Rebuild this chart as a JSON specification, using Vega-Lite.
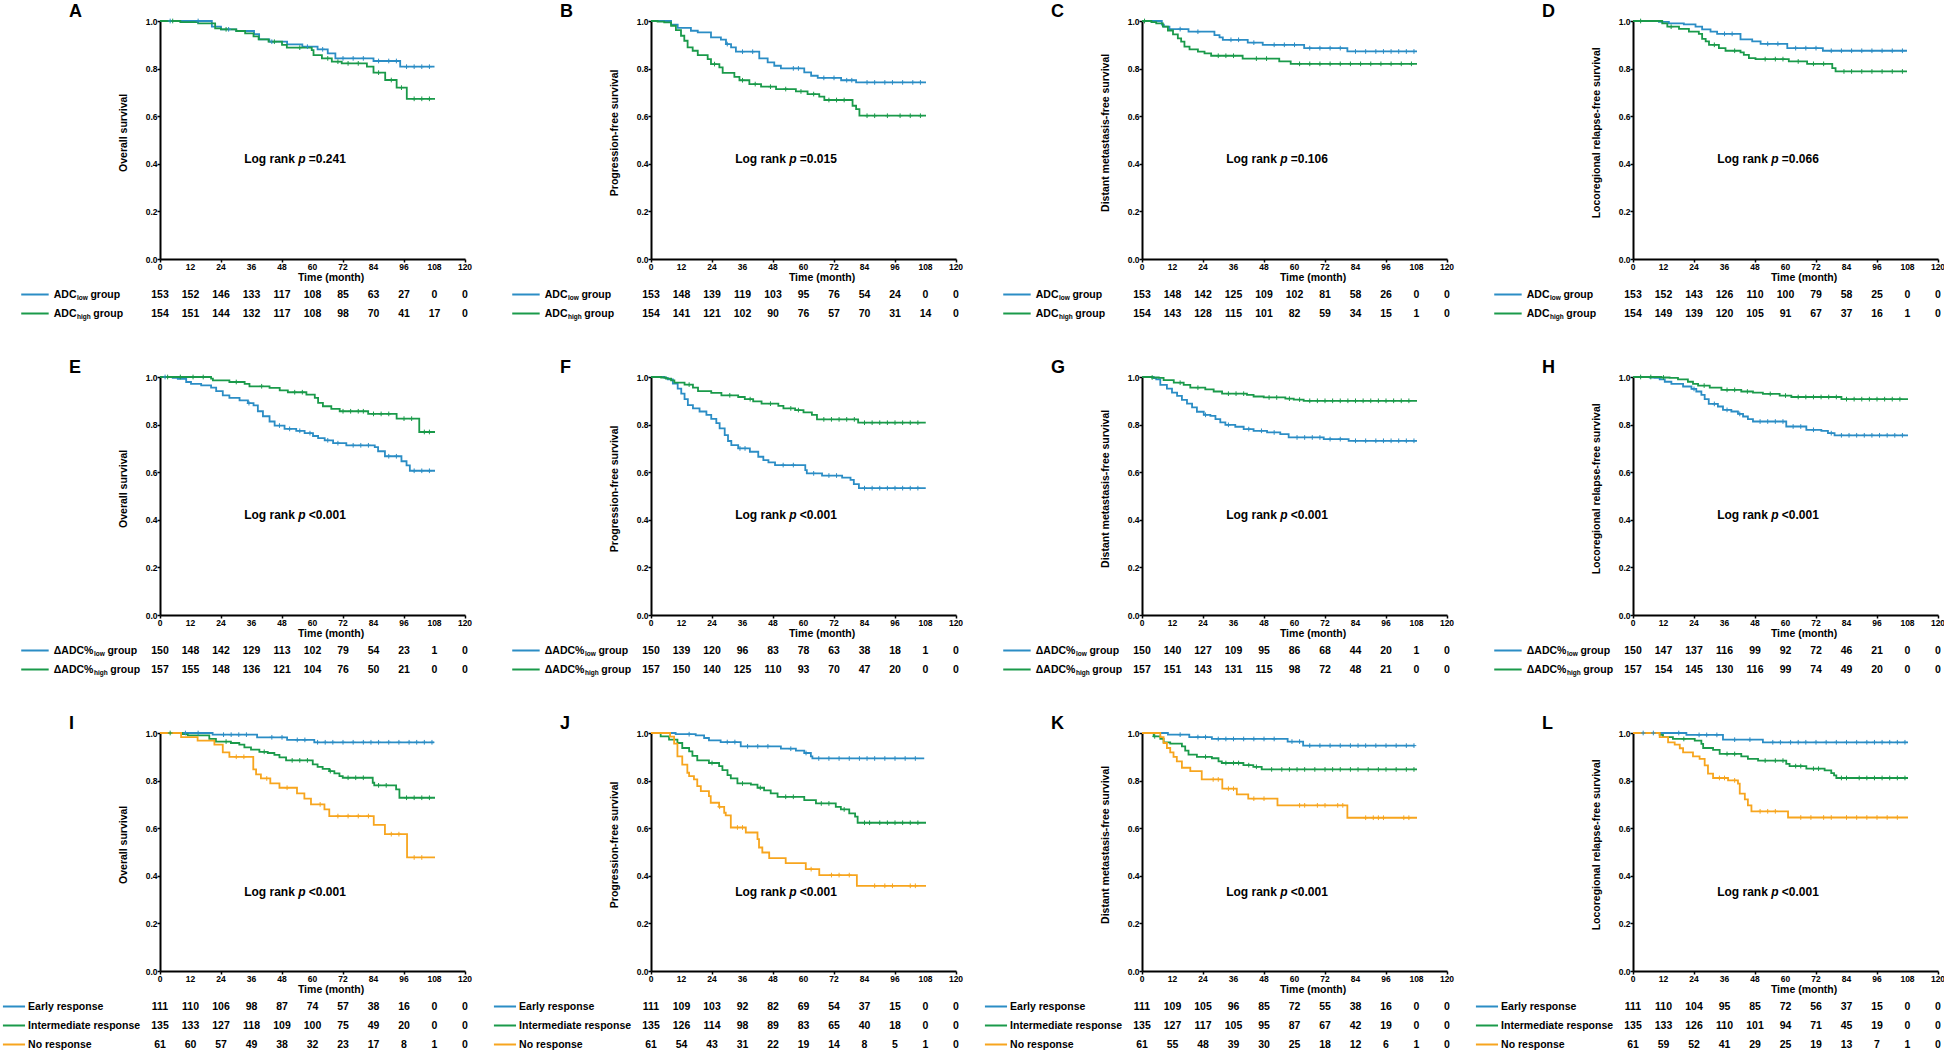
{
"$schema":"https://vega.github.io/schema/vega-lite/v6.json",
"padding":{"left":1,"top":3,"right":0,"bottom":0},
"background":"white",
"config":{"font":"Liberation Sans","view":{"stroke":null},
"text":{"font":"Liberation Sans","fontWeight":"bold","fontSize":10.5,"color":"black"},
"axis":{"domainColor":"black","domainWidth":2,"tickColor":"black","tickWidth":1.5,"tickSize":3,"labelFont":"Liberation Sans","labelFontWeight":"bold","labelFontSize":8.5,"labelColor":"black","grid":false,"labelPadding":0,"labelFlush":false,"labelOverlap":false}},
"data":{"values":[
{"k":"i","r":1,"c":1,"L":"A","yt":"Overall survival","pv":"=0.241","xt":"Time (month)"},
{"k":"i","r":1,"c":2,"L":"B","yt":"Progression-free survival","pv":"=0.015","xt":"Time (month)"},
{"k":"i","r":1,"c":3,"L":"C","yt":"Distant metastasis-free survival","pv":"=0.106","xt":"Time (month)"},
{"k":"i","r":1,"c":4,"L":"D","yt":"Locoregional relapse-free survival","pv":"=0.066","xt":"Time (month)"},
{"k":"i","r":2,"c":1,"L":"E","yt":"Overall survival","pv":"<0.001","xt":"Time (month)"},
{"k":"i","r":2,"c":2,"L":"F","yt":"Progression-free survival","pv":"<0.001","xt":"Time (month)"},
{"k":"i","r":2,"c":3,"L":"G","yt":"Distant metastasis-free survival","pv":"<0.001","xt":"Time (month)"},
{"k":"i","r":2,"c":4,"L":"H","yt":"Locoregional relapse-free survival","pv":"<0.001","xt":"Time (month)"},
{"k":"i","r":3,"c":1,"L":"I","yt":"Overall survival","pv":"<0.001","xt":"Time (month)"},
{"k":"i","r":3,"c":2,"L":"J","yt":"Progression-free survival","pv":"<0.001","xt":""},
{"k":"i","r":3,"c":3,"L":"K","yt":"Distant metastasis-free survival","pv":"<0.001","xt":"Time (month)"},
{"k":"i","r":3,"c":4,"L":"L","yt":"Locoregional relapse-free survival","pv":"<0.001","xt":"Time (month)"},

{"k":"l","r":1,"c":1,"g":"low","gi":1,"lab":"ADC","sub":"low","t":[0,12,24,36,48,60,72,84,96,108,120],"n":[153,152,146,133,117,108,85,63,27,0,0]},
{"k":"l","r":1,"c":1,"g":"high","gi":2,"lab":"ADC","sub":"high","t":[0,12,24,36,48,60,72,84,96,108,120],"n":[154,151,144,132,117,108,98,70,41,17,0]},
{"k":"l","r":1,"c":2,"g":"low","gi":1,"lab":"ADC","sub":"low","t":[0,12,24,36,48,60,72,84,96,108,120],"n":[153,148,139,119,103,95,76,54,24,0,0]},
{"k":"l","r":1,"c":2,"g":"high","gi":2,"lab":"ADC","sub":"high","t":[0,12,24,36,48,60,72,84,96,108,120],"n":[154,141,121,102,90,76,57,70,31,14,0]},
{"k":"l","r":1,"c":3,"g":"low","gi":1,"lab":"ADC","sub":"low","t":[0,12,24,36,48,60,72,84,96,108,120],"n":[153,148,142,125,109,102,81,58,26,0,0]},
{"k":"l","r":1,"c":3,"g":"high","gi":2,"lab":"ADC","sub":"high","t":[0,12,24,36,48,60,72,84,96,108,120],"n":[154,143,128,115,101,82,59,34,15,1,0]},
{"k":"l","r":1,"c":4,"g":"low","gi":1,"lab":"ADC","sub":"low","t":[0,12,24,36,48,60,72,84,96,108,120],"n":[153,152,143,126,110,100,79,58,25,0,0]},
{"k":"l","r":1,"c":4,"g":"high","gi":2,"lab":"ADC","sub":"high","t":[0,12,24,36,48,60,72,84,96,108,120],"n":[154,149,139,120,105,91,67,37,16,1,0]},
{"k":"l","r":2,"c":1,"g":"low","gi":1,"lab":"ΔADC%","sub":"low","t":[0,12,24,36,48,60,72,84,96,108,120],"n":[150,148,142,129,113,102,79,54,23,1,0]},
{"k":"l","r":2,"c":1,"g":"high","gi":2,"lab":"ΔADC%","sub":"high","t":[0,12,24,36,48,60,72,84,96,108,120],"n":[157,155,148,136,121,104,76,50,21,0,0]},
{"k":"l","r":2,"c":2,"g":"low","gi":1,"lab":"ΔADC%","sub":"low","t":[0,12,24,36,48,60,72,84,96,108,120],"n":[150,139,120,96,83,78,63,38,18,1,0]},
{"k":"l","r":2,"c":2,"g":"high","gi":2,"lab":"ΔADC%","sub":"high","t":[0,12,24,36,48,60,72,84,96,108,120],"n":[157,150,140,125,110,93,70,47,20,0,0]},
{"k":"l","r":2,"c":3,"g":"low","gi":1,"lab":"ΔADC%","sub":"low","t":[0,12,24,36,48,60,72,84,96,108,120],"n":[150,140,127,109,95,86,68,44,20,1,0]},
{"k":"l","r":2,"c":3,"g":"high","gi":2,"lab":"ΔADC%","sub":"high","t":[0,12,24,36,48,60,72,84,96,108,120],"n":[157,151,143,131,115,98,72,48,21,0,0]},
{"k":"l","r":2,"c":4,"g":"low","gi":1,"lab":"ΔADC%","sub":"low","t":[0,12,24,36,48,60,72,84,96,108,120],"n":[150,147,137,116,99,92,72,46,21,0,0]},
{"k":"l","r":2,"c":4,"g":"high","gi":2,"lab":"ΔADC%","sub":"high","t":[0,12,24,36,48,60,72,84,96,108,120],"n":[157,154,145,130,116,99,74,49,20,0,0]},
{"k":"l","r":3,"c":1,"g":"early","gi":1,"lab":"Early response","t":[0,12,24,36,48,60,72,84,96,108,120],"n":[111,110,106,98,87,74,57,38,16,0,0]},
{"k":"l","r":3,"c":1,"g":"inter","gi":2,"lab":"Intermediate response","t":[0,12,24,36,48,60,72,84,96,108,120],"n":[135,133,127,118,109,100,75,49,20,0,0]},
{"k":"l","r":3,"c":1,"g":"no","gi":3,"lab":"No response","t":[0,12,24,36,48,60,72,84,96,108,120],"n":[61,60,57,49,38,32,23,17,8,1,0]},
{"k":"l","r":3,"c":2,"g":"early","gi":1,"lab":"Early response","t":[0,12,24,36,48,60,72,84,96,108,120],"n":[111,109,103,92,82,69,54,37,15,0,0]},
{"k":"l","r":3,"c":2,"g":"inter","gi":2,"lab":"Intermediate response","t":[0,12,24,36,48,60,72,84,96,108,120],"n":[135,126,114,98,89,83,65,40,18,0,0]},
{"k":"l","r":3,"c":2,"g":"no","gi":3,"lab":"No response","t":[0,12,24,36,48,60,72,84,96,108,120],"n":[61,54,43,31,22,19,14,8,5,1,0]},
{"k":"l","r":3,"c":3,"g":"early","gi":1,"lab":"Early response","t":[0,12,24,36,48,60,72,84,96,108,120],"n":[111,109,105,96,85,72,55,38,16,0,0]},
{"k":"l","r":3,"c":3,"g":"inter","gi":2,"lab":"Intermediate response","t":[0,12,24,36,48,60,72,84,96,108,120],"n":[135,127,117,105,95,87,67,42,19,0,0]},
{"k":"l","r":3,"c":3,"g":"no","gi":3,"lab":"No response","t":[0,12,24,36,48,60,72,84,96,108,120],"n":[61,55,48,39,30,25,18,12,6,1,0]},
{"k":"l","r":3,"c":4,"g":"early","gi":1,"lab":"Early response","t":[0,12,24,36,48,60,72,84,96,108,120],"n":[111,110,104,95,85,72,56,37,15,0,0]},
{"k":"l","r":3,"c":4,"g":"inter","gi":2,"lab":"Intermediate response","t":[0,12,24,36,48,60,72,84,96,108,120],"n":[135,133,126,110,101,94,71,45,19,0,0]},
{"k":"l","r":3,"c":4,"g":"no","gi":3,"lab":"No response","t":[0,12,24,36,48,60,72,84,96,108,120],"n":[61,59,52,41,29,25,19,13,7,1,0]},

{"k":"s","r":1,"c":1,"g":"low","t":[0,20.4,24,30,37,39,43,50,56,62,66,69,84,94.5,108],"s":[1,0.976,0.965,0.958,0.945,0.923,0.913,0.902,0.892,0.881,0.864,0.843,0.832,0.808,0.808]},
{"k":"s","r":1,"c":1,"g":"high","t":[0,8,15,21.7,24,30,33.5,36.8,38.8,42.7,48,49.9,59.7,60.4,63.7,67.6,71.5,81.4,84,88.6,93.1,97.1,108.2],"s":[1,0.995,0.99,0.969,0.965,0.958,0.948,0.935,0.923,0.913,0.9,0.888,0.878,0.857,0.843,0.829,0.822,0.808,0.783,0.752,0.72,0.673,0.673]},
{"k":"s","r":1,"c":2,"g":"low","t":[0,7.9,10.5,15.7,18.4,23.6,27.5,29.5,31.5,33.4,42.6,45.9,48.5,51.1,60.3,63,65.6,74.8,80.7,108.2],"s":[1,0.985,0.971,0.959,0.952,0.931,0.922,0.903,0.889,0.871,0.843,0.826,0.812,0.801,0.784,0.77,0.761,0.751,0.742,0.742]},
{"k":"s","r":1,"c":2,"g":"high","t":[0,2.6,5.2,7.9,9.8,11.8,13.1,14.4,16.4,18.4,22.3,23.6,26.9,28.2,32.8,34.8,38.7,43.3,49.2,57,61.6,66.2,68.2,79.3,80.7,82,108.2],"s":[1,0.997,0.994,0.98,0.962,0.938,0.917,0.889,0.875,0.857,0.84,0.819,0.805,0.782,0.765,0.751,0.735,0.724,0.714,0.704,0.693,0.682,0.668,0.644,0.63,0.602,0.602]},
{"k":"s","r":1,"c":3,"g":"low","t":[0,7.8,8.6,10.8,18.3,28.5,30.5,31.8,41.6,47.5,63.8,80.8,108.2],"s":[1,0.985,0.976,0.966,0.955,0.941,0.931,0.921,0.909,0.9,0.886,0.872,0.872]},
{"k":"s","r":1,"c":3,"g":"high","t":[0,3.7,5.6,8.2,10.2,12.2,14.1,15.4,16.7,18.7,22,24.6,27.2,39.6,54,58.5,108.2],"s":[1,0.995,0.99,0.976,0.96,0.944,0.927,0.913,0.892,0.881,0.871,0.864,0.854,0.842,0.83,0.82,0.82]},
{"k":"s","r":1,"c":4,"g":"low","t":[0,10.2,14.1,20,24.6,27.2,30.5,33.1,42.3,46.9,50.2,60.7,74.7,107.8],"s":[1,0.996,0.99,0.986,0.976,0.965,0.955,0.946,0.923,0.914,0.904,0.886,0.875,0.875]},
{"k":"s","r":1,"c":4,"g":"high","t":[0,11.5,13.5,18.1,22,25.9,27.2,28.6,29.9,33.8,36.4,42.3,43.6,45.6,48.2,61.3,68.5,78.4,79.7,107.8],"s":[1,0.99,0.976,0.967,0.955,0.946,0.925,0.914,0.9,0.886,0.875,0.868,0.858,0.844,0.84,0.83,0.82,0.802,0.788,0.788]},
{"k":"s","r":2,"c":1,"g":"low","t":[0,5,7,10.3,12.2,16.2,20.1,22.1,24.7,27.3,31.3,34.6,36.8,38.5,40.5,43.1,45.1,49,53.6,56.9,60.2,62.2,64.8,68.1,73.3,84.5,85.8,88.5,95,97,98.3,108.2],"s":[1,0.996,0.992,0.979,0.971,0.965,0.955,0.941,0.923,0.912,0.902,0.89,0.881,0.856,0.835,0.813,0.796,0.782,0.774,0.764,0.752,0.743,0.734,0.722,0.713,0.705,0.688,0.667,0.646,0.629,0.606,0.606]},
{"k":"s","r":2,"c":1,"g":"high","t":[0,20.1,20.8,27.3,33.3,35.2,43.1,47.1,50.3,57.6,60.9,62.2,64.1,67.4,70.7,81.9,93.1,102,108.2],"s":[1,0.993,0.986,0.979,0.971,0.961,0.954,0.944,0.936,0.926,0.912,0.891,0.877,0.866,0.856,0.845,0.825,0.769,0.769]},
{"k":"s","r":2,"c":2,"g":"low","t":[0,5.3,6.6,8.6,10.5,11.9,13.2,14.5,16.5,19.1,21.8,23.7,25.7,27,29,30.3,31.6,34.3,38.9,42.2,44.2,46.2,48.8,60.7,61.3,67.3,75.2,78.5,79.8,81.8,108.1],"s":[1,0.996,0.99,0.972,0.951,0.93,0.907,0.882,0.868,0.855,0.841,0.824,0.806,0.784,0.756,0.731,0.714,0.7,0.686,0.665,0.651,0.641,0.63,0.609,0.595,0.586,0.577,0.568,0.55,0.533,0.533]},
{"k":"s","r":2,"c":2,"g":"high","t":[0,4,5.9,7.9,9.2,13.2,16.5,18.5,23.7,27.7,34.3,36.9,40.2,43.5,50.1,52.1,56.7,60,63.3,65.3,81.5,108.1],"s":[1,0.998,0.993,0.986,0.976,0.968,0.955,0.941,0.933,0.923,0.916,0.907,0.898,0.888,0.879,0.868,0.861,0.851,0.841,0.822,0.808,0.808]},
{"k":"s","r":2,"c":3,"g":"low","t":[0,4.6,5.6,7.2,9.8,11.8,13.8,15.7,17.7,19.7,21.6,24.3,26.9,28.9,30.8,32.8,36.7,40,43.9,49.2,54.4,57.7,71.5,81.3,108.2],"s":[1,0.995,0.99,0.967,0.951,0.934,0.921,0.904,0.888,0.872,0.854,0.841,0.837,0.823,0.809,0.799,0.791,0.781,0.774,0.767,0.76,0.746,0.739,0.732,0.732]},
{"k":"s","r":2,"c":3,"g":"high","t":[0,3.9,6.6,8.5,12.5,16.4,19,24.9,28.2,31.5,41.3,43.9,47.9,56.4,59.7,63.6,108.2],"s":[1,0.998,0.996,0.987,0.976,0.967,0.955,0.948,0.939,0.93,0.925,0.918,0.914,0.909,0.905,0.9,0.9]},
{"k":"s","r":2,"c":4,"g":"low","t":[0,6.6,8.5,10.5,12.5,15.1,19.7,23,24.9,26.9,28.2,29.8,33.4,35.4,38.7,41.3,43.3,45.2,47.2,60.3,68.2,74.1,76.7,79.3,108.2],"s":[1,0.998,0.996,0.99,0.98,0.971,0.96,0.95,0.939,0.925,0.907,0.887,0.876,0.862,0.855,0.845,0.834,0.823,0.813,0.792,0.778,0.774,0.764,0.755,0.755]},
{"k":"s","r":2,"c":4,"g":"high","t":[0,11.1,14.4,17.7,21.6,23.6,25.6,30.2,34.8,42.6,47.2,51.1,57.7,62.3,82,108.2],"s":[1,0.998,0.996,0.99,0.98,0.971,0.964,0.955,0.946,0.939,0.934,0.929,0.922,0.916,0.907,0.907]},
{"k":"s","r":3,"c":1,"g":"early","t":[0,20.7,38.2,50,60.7,107.9],"s":[1,0.993,0.982,0.971,0.961,0.961]},
{"k":"s","r":3,"c":1,"g":"inter","t":[0,8.9,10.9,19.4,22,27.9,31.2,33.2,35.8,39.1,42.4,45,47,49.6,60.1,62,64,66.6,68.6,70.6,71.9,83.7,84.3,92.9,94.2,108.2],"s":[1,0.995,0.99,0.975,0.964,0.958,0.951,0.94,0.93,0.921,0.916,0.908,0.898,0.885,0.868,0.858,0.849,0.84,0.83,0.819,0.812,0.791,0.78,0.763,0.728,0.728]},
{"k":"s","r":3,"c":1,"g":"no","t":[0,8.3,14.8,21.4,24.7,27.3,36.7,37.8,39.7,43.4,47,53.9,56.8,59.4,64.7,66.6,84.1,88.5,97.2,108.2],"s":[1,0.983,0.968,0.951,0.919,0.9,0.847,0.826,0.809,0.788,0.77,0.746,0.724,0.7,0.679,0.651,0.614,0.575,0.477,0.477]},
{"k":"s","r":3,"c":2,"g":"early","t":[0,9.7,17.6,20.9,22.8,27.4,35.3,51.1,57,60.3,62.9,63.5,107.5],"s":[1,0.995,0.99,0.979,0.969,0.962,0.944,0.934,0.926,0.916,0.902,0.893,0.893]},
{"k":"s","r":3,"c":2,"g":"inter","t":[0,3.8,7.1,10.4,12.3,15,16.3,18.2,22.8,26.8,28.1,30.1,31.4,34,39.3,41.9,44.5,47.1,49.8,60.3,64.9,72.7,74.7,78,80.3,81.3,108.2],"s":[1,0.986,0.972,0.958,0.937,0.923,0.904,0.885,0.874,0.861,0.844,0.823,0.809,0.788,0.783,0.77,0.759,0.746,0.732,0.718,0.704,0.69,0.679,0.662,0.649,0.623,0.623]},
{"k":"s","r":3,"c":2,"g":"no","t":[0,7.5,9.1,10.4,12.3,14.3,15,16.9,18.2,19.6,22.8,23.5,26.8,28.8,29.4,31.4,37.3,41.9,42.5,43.8,46.5,53,60.9,66.2,81,108.2],"s":[1,0.985,0.955,0.902,0.867,0.833,0.819,0.805,0.777,0.756,0.735,0.707,0.69,0.665,0.654,0.603,0.582,0.554,0.519,0.498,0.474,0.453,0.428,0.403,0.358,0.358]},
{"k":"s","r":3,"c":3,"g":"early","t":[0,10.2,18.6,27.5,57.3,63.4,107.2],"s":[1,0.993,0.983,0.975,0.964,0.947,0.947]},
{"k":"s","r":3,"c":3,"g":"inter","t":[0,4.6,7.2,8.5,11.1,15.7,17,18.3,21.6,27.5,30.1,31.4,39.9,43.8,47.1,108.2],"s":[1,0.986,0.975,0.961,0.955,0.944,0.926,0.909,0.9,0.894,0.881,0.874,0.865,0.858,0.847,0.847]},
{"k":"s","r":3,"c":3,"g":"no","t":[0,7.2,8.5,9.8,11.1,12.4,13.7,15.7,19,23.5,31.6,37.3,41.8,53.3,80.8,108.2],"s":[1,0.983,0.958,0.937,0.919,0.9,0.881,0.854,0.84,0.805,0.766,0.742,0.724,0.696,0.644,0.644]},
{"k":"s","r":3,"c":4,"g":"early","t":[0,21,35.4,51.1,108.2],"s":[1,0.992,0.972,0.961,0.961]},
{"k":"s","r":3,"c":4,"g":"inter","t":[0,10.5,11.8,15.7,24.3,26.9,27.6,31.5,34.1,42.6,45.2,49.2,60.3,61.6,68.2,75.4,78,79.1,80,108.2],"s":[1,0.992,0.983,0.975,0.968,0.954,0.937,0.929,0.912,0.902,0.891,0.884,0.87,0.861,0.85,0.843,0.831,0.822,0.811,0.811]},
{"k":"s","r":3,"c":4,"g":"no","t":[0,10.5,13.8,16.4,18.4,19.7,23.6,26.2,28.2,29.5,31.5,37.4,41.3,42,44,45.2,46.6,61,108.2],"s":[1,0.983,0.961,0.951,0.936,0.919,0.902,0.891,0.864,0.829,0.811,0.801,0.787,0.745,0.721,0.696,0.671,0.645,0.645]},

{"k":"c","r":1,"c":1,"g":"low","t":[4,15,27,44,58,64,72,76,80,86,90,93,97,100,103,106],"s":[1,1,0.965,0.913,0.892,0.881,0.843,0.843,0.843,0.832,0.832,0.832,0.808,0.808,0.808,0.808]},
{"k":"c","r":1,"c":1,"g":"high","t":[5,26,45,55,66,70,74,78,86,91,95,100,103,106],"s":[1,0.965,0.913,0.888,0.843,0.829,0.822,0.822,0.783,0.752,0.72,0.673,0.673,0.673]},
{"k":"c","r":1,"c":2,"g":"low","t":[30,36,40,56,58,68,72,77,79,85,88,92,95,99,103,106],"s":[0.903,0.871,0.871,0.801,0.801,0.761,0.761,0.751,0.751,0.742,0.742,0.742,0.742,0.742,0.742,0.742]},
{"k":"c","r":1,"c":2,"g":"high","t":[25,36,41,47,53,59,64,70,73,76,85,88,93,98,102,106],"s":[0.819,0.751,0.735,0.724,0.714,0.704,0.693,0.668,0.668,0.668,0.602,0.602,0.602,0.602,0.602,0.602]},
{"k":"c","r":1,"c":3,"g":"low","t":[15,22,35,38,44,52,56,60,66,70,74,78,84,88,92,95,98,101,104,107],"s":[0.966,0.955,0.921,0.921,0.909,0.9,0.9,0.9,0.886,0.886,0.886,0.886,0.872,0.872,0.872,0.872,0.872,0.872,0.872,0.872]},
{"k":"c","r":1,"c":3,"g":"high","t":[1,30,33,36,45,49,62,66,70,74,78,82,86,90,94,98,102,106],"s":[1,0.854,0.854,0.854,0.842,0.842,0.82,0.82,0.82,0.82,0.82,0.82,0.82,0.82,0.82,0.82,0.82,0.82]},
{"k":"c","r":1,"c":4,"g":"low","t":[36,39,53,57,64,68,72,78,82,86,90,94,98,102,106],"s":[0.946,0.946,0.904,0.904,0.886,0.886,0.886,0.875,0.875,0.875,0.875,0.875,0.875,0.875,0.875]},
{"k":"c","r":1,"c":4,"g":"high","t":[3,15,32,40,52,56,59,65,71,75,83,86,90,94,98,102,106],"s":[1,0.976,0.9,0.875,0.84,0.84,0.84,0.83,0.82,0.82,0.788,0.788,0.788,0.788,0.788,0.788,0.788]},
{"k":"c","r":2,"c":1,"g":"low","t":[2,35,47,51,55,59,66,70,76,79,82,90,93,100,103,106],"s":[1,0.89,0.796,0.782,0.774,0.764,0.734,0.722,0.713,0.713,0.713,0.667,0.667,0.606,0.606,0.606]},
{"k":"c","r":2,"c":1,"g":"high","t":[3,8,13,17,30,40,53,56,72,75,78,80,84,87,90,96,99,104,106],"s":[1,1,1,1,0.979,0.961,0.936,0.936,0.856,0.856,0.856,0.856,0.845,0.845,0.845,0.825,0.825,0.769,0.769]},
{"k":"c","r":2,"c":2,"g":"low","t":[35,37,52,56,64,70,73,84,87,90,93,96,99,102,105],"s":[0.7,0.7,0.63,0.63,0.595,0.586,0.586,0.533,0.533,0.533,0.533,0.533,0.533,0.533,0.533]},
{"k":"c","r":2,"c":2,"g":"high","t":[15,31,39,47,55,58,68,71,74,77,80,84,87,90,93,96,99,102,105],"s":[0.968,0.923,0.907,0.888,0.868,0.861,0.822,0.822,0.822,0.822,0.822,0.808,0.808,0.808,0.808,0.808,0.808,0.808,0.808]},
{"k":"c","r":2,"c":3,"g":"low","t":[25,34,42,47,52,61,64,67,70,74,78,84,88,92,95,98,101,104,107],"s":[0.841,0.799,0.781,0.774,0.767,0.746,0.746,0.746,0.746,0.739,0.739,0.732,0.732,0.732,0.732,0.732,0.732,0.732,0.732]},
{"k":"c","r":2,"c":3,"g":"high","t":[4,15,22,34,37,40,50,53,58,62,66,69,72,75,78,81,84,87,90,93,96,99,102,105],"s":[0.998,0.976,0.955,0.93,0.93,0.93,0.914,0.914,0.909,0.905,0.9,0.9,0.9,0.9,0.9,0.9,0.9,0.9,0.9,0.9,0.9,0.9,0.9,0.9]},
{"k":"c","r":2,"c":4,"g":"low","t":[24,32,37,42,50,53,56,59,63,66,71,78,82,85,88,91,94,97,100,103,106],"s":[0.95,0.887,0.862,0.845,0.813,0.813,0.813,0.813,0.792,0.792,0.778,0.764,0.755,0.755,0.755,0.755,0.755,0.755,0.755,0.755,0.755]},
{"k":"c","r":2,"c":4,"g":"high","t":[3,7,12,28,37,40,45,54,60,65,68,71,74,77,80,84,87,90,93,96,99,102,105],"s":[1,1,0.998,0.964,0.946,0.946,0.939,0.929,0.922,0.916,0.916,0.916,0.916,0.916,0.916,0.907,0.907,0.907,0.907,0.907,0.907,0.907,0.907]},
{"k":"c","r":3,"c":1,"g":"early","t":[10,15,25,28,31,34,44,48,54,57,62,65,68,72,76,80,83,86,90,94,98,101,104,107],"s":[1,1,0.993,0.993,0.993,0.993,0.982,0.982,0.971,0.971,0.961,0.961,0.961,0.961,0.961,0.961,0.961,0.961,0.961,0.961,0.961,0.961,0.961,0.961]},
{"k":"c","r":3,"c":1,"g":"inter","t":[4,26,41,52,55,58,67,74,77,80,86,89,97,100,103,106],"s":[1,0.964,0.921,0.885,0.885,0.885,0.84,0.812,0.812,0.812,0.78,0.78,0.728,0.728,0.728,0.728]},
{"k":"c","r":3,"c":1,"g":"no","t":[30,33,42,50,63,70,74,78,82,91,94,100,103],"s":[0.9,0.9,0.809,0.77,0.7,0.651,0.651,0.651,0.651,0.575,0.575,0.477,0.477]},
{"k":"c","r":3,"c":2,"g":"early","t":[15,30,33,38,42,46,55,61,66,70,74,78,82,85,88,92,96,100,104],"s":[0.995,0.962,0.962,0.944,0.944,0.944,0.934,0.916,0.893,0.893,0.893,0.893,0.893,0.893,0.893,0.893,0.893,0.893,0.893]},
{"k":"c","r":3,"c":2,"g":"inter","t":[24,36,43,53,56,67,70,76,84,86,90,93,96,99,102,105],"s":[0.874,0.788,0.77,0.732,0.732,0.704,0.704,0.679,0.623,0.623,0.623,0.623,0.623,0.623,0.623,0.623]},
{"k":"c","r":3,"c":2,"g":"no","t":[27,34,36,63,71,74,78,88,92,95,102,104],"s":[0.69,0.603,0.603,0.428,0.403,0.403,0.403,0.358,0.358,0.358,0.358,0.358]},
{"k":"c","r":3,"c":3,"g":"early","t":[15,22,25,30,33,36,40,44,48,52,59,62,66,70,74,78,82,85,88,92,96,100,104,107],"s":[0.993,0.983,0.983,0.975,0.975,0.975,0.975,0.975,0.975,0.975,0.964,0.964,0.947,0.947,0.947,0.947,0.947,0.947,0.947,0.947,0.947,0.947,0.947,0.947]},
{"k":"c","r":3,"c":3,"g":"inter","t":[5,25,33,36,38,42,45,51,55,58,61,64,68,72,75,78,82,85,89,93,96,100,104,107],"s":[0.986,0.9,0.874,0.874,0.874,0.865,0.858,0.847,0.847,0.847,0.847,0.847,0.847,0.847,0.847,0.847,0.847,0.847,0.847,0.847,0.847,0.847,0.847,0.847]},
{"k":"c","r":3,"c":3,"g":"no","t":[28,30,34,36,44,48,62,64,69,72,77,79,88,91,93,95,103,105],"s":[0.805,0.805,0.766,0.766,0.724,0.724,0.696,0.696,0.696,0.696,0.696,0.696,0.644,0.644,0.644,0.644,0.644,0.644]},
{"k":"c","r":3,"c":4,"g":"early","t":[4,8,18,26,29,33,40,46,55,58,62,65,68,72,76,80,84,88,92,95,98,101,104,107],"s":[1,1,1,0.992,0.992,0.992,0.972,0.972,0.961,0.961,0.961,0.961,0.961,0.961,0.961,0.961,0.961,0.961,0.961,0.961,0.961,0.961,0.961,0.961]},
{"k":"c","r":3,"c":4,"g":"inter","t":[20,37,40,52,56,59,64,66,71,73,82,84,89,92,95,98,101,104,107],"s":[0.975,0.912,0.912,0.884,0.884,0.884,0.861,0.861,0.85,0.85,0.811,0.811,0.811,0.811,0.811,0.811,0.811,0.811,0.811]},
{"k":"c","r":3,"c":4,"g":"no","t":[34,36,40,50,53,56,66,70,75,78,84,88,92,96,100,104],"s":[0.811,0.811,0.801,0.671,0.671,0.671,0.645,0.645,0.645,0.645,0.645,0.645,0.645,0.645,0.645,0.645]}
]},
"facet":{"row":{"field":"r","type":"ordinal","header":{"labels":false,"title":null}},"column":{"field":"c","type":"ordinal","header":{"labels":false,"title":null}}},
"spacing":{"row":118,"column":186},
"bounds":"flush",
"resolve":{"axis":{"x":"independent","y":"independent"}},
"spec":{
"width":305,"height":238,
"resolve":{"scale":{"y":"independent"}},
"layer":[
{"transform":[{"filter":"datum.k=='s'"},{"flatten":["t","s"]}],
 "mark":{"type":"line","interpolate":"step-after","strokeWidth":1.8},
 "encoding":{
  "x":{"field":"t","type":"quantitative","scale":{"domain":[0,120],"nice":false},"axis":{"values":[0,12,24,36,48,60,72,84,96,108,120],"labels":false,"title":null}},
  "y":{"field":"s","type":"quantitative","scale":{"domain":[0,1],"nice":false},"axis":{"values":[0,0.2,0.4,0.6,0.8,1],"format":".1f","title":null,"labelOverlap":false}},
  "color":{"field":"g","type":"nominal","scale":{"domain":["low","high","early","inter","no"],"range":["#2b8dc5","#1a9a4a","#2b8dc5","#1a9a4a","#f7a51e"]},"legend":null}}},
{"transform":[{"filter":"datum.k=='c'"},{"flatten":["t","s"]}],
 "mark":{"type":"point","shape":"M-1,0L1,0M0,-1L0,1","size":22,"strokeWidth":1,"filled":false,"opacity":1},
 "encoding":{
  "x":{"field":"t","type":"quantitative"},
  "y":{"field":"s","type":"quantitative","scale":{"domain":[0,1],"nice":false},"axis":null},
  "color":{"field":"g","type":"nominal","legend":null}}},
{"transform":[{"filter":"datum.k=='l' && datum.gi==1"},{"flatten":["t"]}],
 "mark":{"type":"text","align":"center","baseline":"middle","fontSize":8.5},
 "encoding":{"x":{"field":"t","type":"quantitative"},"y":{"datum":-0.034,"scale":{"domain":[0,1],"nice":false},"axis":null},"text":{"field":"t"}}},
{"transform":[{"filter":"datum.k=='i'"}],
 "mark":{"type":"text","align":"center","baseline":"middle","fontSize":10.5},
 "encoding":{"x":{"datum":67.3},"y":{"datum":-0.08,"scale":{"domain":[0,1],"nice":false},"axis":null},"text":{"field":"xt"}}},
{"transform":[{"filter":"datum.k=='i'"}],
 "mark":{"type":"text","align":"left","baseline":"middle","fontSize":18,"dx":-91,"dy":-9},
 "encoding":{"x":{"datum":0},"y":{"datum":1,"scale":{"domain":[0,1],"nice":false},"axis":null},"text":{"field":"L"}}},
{"transform":[{"filter":"datum.k=='i'"}],
 "mark":{"type":"text","align":"center","baseline":"middle","angle":270,"fontSize":10.5},
 "encoding":{"x":{"datum":-14.2},"y":{"datum":0.53,"scale":{"domain":[0,1],"nice":false},"axis":null},"text":{"field":"yt"}}},
{"transform":[{"filter":"datum.k=='i' && datum.r<3"}],
 "mark":{"type":"text","align":"right","baseline":"middle","fontSize":12,"dx":-7},
 "encoding":{"x":{"datum":55.8},"y":{"datum":0.419,"scale":{"domain":[0,1],"nice":false},"axis":null},"text":{"value":"Log rank"}}},
{"transform":[{"filter":"datum.k=='i' && datum.r<3"}],
 "mark":{"type":"text","align":"center","baseline":"middle","fontSize":12,"fontStyle":"italic"},
 "encoding":{"x":{"datum":55.8},"y":{"datum":0.419,"scale":{"domain":[0,1],"nice":false},"axis":null},"text":{"value":"p"}}},
{"transform":[{"filter":"datum.k=='i' && datum.r<3"}],
 "mark":{"type":"text","align":"left","baseline":"middle","fontSize":12,"dx":7},
 "encoding":{"x":{"datum":55.8},"y":{"datum":0.419,"scale":{"domain":[0,1],"nice":false},"axis":null},"text":{"field":"pv"}}},
{"transform":[{"filter":"datum.k=='i' && datum.r==3"}],
 "mark":{"type":"text","align":"right","baseline":"middle","fontSize":12,"dx":-7},
 "encoding":{"x":{"datum":55.8},"y":{"datum":0.33,"scale":{"domain":[0,1],"nice":false},"axis":null},"text":{"value":"Log rank"}}},
{"transform":[{"filter":"datum.k=='i' && datum.r==3"}],
 "mark":{"type":"text","align":"center","baseline":"middle","fontSize":12,"fontStyle":"italic"},
 "encoding":{"x":{"datum":55.8},"y":{"datum":0.33,"scale":{"domain":[0,1],"nice":false},"axis":null},"text":{"value":"p"}}},
{"transform":[{"filter":"datum.k=='i' && datum.r==3"}],
 "mark":{"type":"text","align":"left","baseline":"middle","fontSize":12,"dx":7},
 "encoding":{"x":{"datum":55.8},"y":{"datum":0.33,"scale":{"domain":[0,1],"nice":false},"axis":null},"text":{"field":"pv"}}},
{"transform":[{"filter":"datum.k=='l'"},{"flatten":["t","n"]}],
 "mark":{"type":"text","align":"center","baseline":"middle"},
 "encoding":{"x":{"field":"t","type":"quantitative"},"y":{"field":"gi","type":"quantitative","scale":{"domain":[1,3],"range":[273.5,311.5],"nice":false,"zero":false},"axis":null},"text":{"field":"n"}}},
{"transform":[{"filter":"datum.k=='l' && datum.r<3"}],
 "mark":{"type":"rule","strokeWidth":2},
 "encoding":{"x":{"datum":-54.6},"x2":{"datum":-43.8},"y":{"field":"gi","type":"quantitative","scale":{"domain":[1,3],"range":[273.5,311.5],"nice":false,"zero":false},"axis":null},"color":{"field":"g","type":"nominal","legend":null}}},
{"transform":[{"filter":"datum.k=='l' && datum.r==3"}],
 "mark":{"type":"rule","strokeWidth":2},
 "encoding":{"x":{"datum":-61.8},"x2":{"datum":-53.1},"y":{"field":"gi","type":"quantitative","scale":{"domain":[1,3],"range":[273.5,311.5],"nice":false,"zero":false},"axis":null},"color":{"field":"g","type":"nominal","legend":null}}},
{"transform":[{"filter":"datum.k=='l' && datum.r<3"}],
 "mark":{"type":"text","align":"left","baseline":"middle"},
 "encoding":{"x":{"datum":-41.8},"y":{"field":"gi","type":"quantitative","scale":{"domain":[1,3],"range":[273.5,311.5],"nice":false,"zero":false},"axis":null},"text":{"field":"lab"}}},
{"transform":[{"filter":"datum.k=='l' && datum.r==3"}],
 "mark":{"type":"text","align":"left","baseline":"middle"},
 "encoding":{"x":{"datum":-51.9},"y":{"field":"gi","type":"quantitative","scale":{"domain":[1,3],"range":[273.5,311.5],"nice":false,"zero":false},"axis":null},"text":{"field":"lab"}}},
{"transform":[{"filter":"datum.k=='l' && datum.r==1"}],
 "mark":{"type":"text","align":"left","baseline":"middle","fontSize":6.5,"dx":23.2,"dy":3.5},
 "encoding":{"x":{"datum":-41.8},"y":{"field":"gi","type":"quantitative","scale":{"domain":[1,3],"range":[273.5,311.5],"nice":false,"zero":false},"axis":null},"text":{"field":"sub"}}},
{"transform":[{"filter":"datum.k=='l' && datum.r==2"}],
 "mark":{"type":"text","align":"left","baseline":"middle","fontSize":6.5,"dx":40.2,"dy":3.5},
 "encoding":{"x":{"datum":-41.8},"y":{"field":"gi","type":"quantitative","scale":{"domain":[1,3],"range":[273.5,311.5],"nice":false,"zero":false},"axis":null},"text":{"field":"sub"}}},
{"transform":[{"filter":"datum.k=='l' && datum.r==1 && datum.sub=='low'"}],
 "mark":{"type":"text","align":"left","baseline":"middle","dx":36.7},
 "encoding":{"x":{"datum":-41.8},"y":{"field":"gi","type":"quantitative","scale":{"domain":[1,3],"range":[273.5,311.5],"nice":false,"zero":false},"axis":null},"text":{"value":"group"}}},
{"transform":[{"filter":"datum.k=='l' && datum.r==1 && datum.sub=='high'"}],
 "mark":{"type":"text","align":"left","baseline":"middle","dx":39.6},
 "encoding":{"x":{"datum":-41.8},"y":{"field":"gi","type":"quantitative","scale":{"domain":[1,3],"range":[273.5,311.5],"nice":false,"zero":false},"axis":null},"text":{"value":"group"}}},
{"transform":[{"filter":"datum.k=='l' && datum.r==2 && datum.sub=='low'"}],
 "mark":{"type":"text","align":"left","baseline":"middle","dx":53.7},
 "encoding":{"x":{"datum":-41.8},"y":{"field":"gi","type":"quantitative","scale":{"domain":[1,3],"range":[273.5,311.5],"nice":false,"zero":false},"axis":null},"text":{"value":"group"}}},
{"transform":[{"filter":"datum.k=='l' && datum.r==2 && datum.sub=='high'"}],
 "mark":{"type":"text","align":"left","baseline":"middle","dx":56.6},
 "encoding":{"x":{"datum":-41.8},"y":{"field":"gi","type":"quantitative","scale":{"domain":[1,3],"range":[273.5,311.5],"nice":false,"zero":false},"axis":null},"text":{"value":"group"}}}
]}
}
